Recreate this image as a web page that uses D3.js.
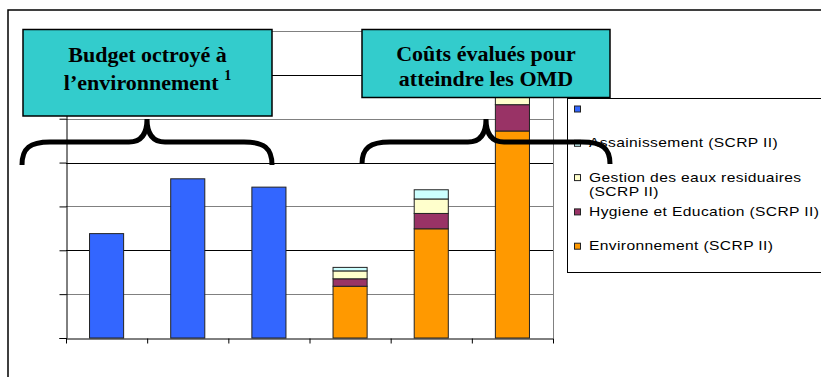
<!DOCTYPE html>
<html>
<head>
<meta charset="utf-8">
<script src="https://cdn.jsdelivr.net/npm/d3@7"></script>
<style>
  body { margin: 0; background: #fff; }
  svg { display: block; }
</style>
</head>
<body>
<div id="chart"></div>
<script>
// categories have no visible labels in the source
const categories = ['b1', 'b2', 'b3', 'c1', 'c2', 'c3'];
const budget = [2.38, 3.63, 3.44, 0, 0, 0];
const environnement = [0, 0, 0, 1.18, 2.49, 4.72];
const hygiene = [0, 0, 0, 0.17, 0.35, 0.60];
const gestion = [0, 0, 0, 0.18, 0.33, 0.45];
const assainissement = [0, 0, 0, 0.08, 0.21, 0.30];
const yTicks = [0, 1, 2, 3, 4, 5, 6, 7];

const keys = ['budget', 'environnement', 'hygiene', 'gestion', 'assainissement'];
const colors = {
  budget: '#3366ff',
  environnement: '#ff9900',
  hygiene: '#993366',
  gestion: '#ffffcc',
  assainissement: '#ccffff'
};
// legend order as drawn (top to bottom), long labels split in lines
const legendKeys = ['budget', 'assainissement', 'gestion', 'hygiene', 'environnement'];
const legendLabels = [
  [''],
  ['Assainissement (SCRP II)'],
  ['Gestion des eaux residuaires', '(SCRP II)'],
  ['Hygiene et Education (SCRP II)'],
  ['Environnement (SCRP II)']
];

let rows = categories.map((c, i) => ({
  cat: c,
  budget: budget[i],
  environnement: environnement[i],
  hygiene: hygiene[i],
  gestion: gestion[i],
  assainissement: assainissement[i]
}));

let svg = d3.select('#chart')
    .append('svg')
    .attr('width', 821)
    .attr('height', 377);

svg.append('rect')
    .attr('width', 821)
    .attr('height', 377)
    .attr('fill', '#fff');

// outer frame
svg.append('path')
    .attr('d', 'M8,377 L8,10 L830,10')
    .attr('fill', 'none')
    .attr('stroke', '#000')
    .attr('stroke-width', 1.5);

let plot = {left: 66, right: 553, top: 31, bottom: 338};

let x = d3.scaleBand()
    .domain(categories)
    .range([plot.left, plot.right])
    .paddingInner(0.58)
    .paddingOuter(0.29);

let xEdges = d3.scaleLinear()
    .domain([0, categories.length])
    .range([plot.left, plot.right]);

let y = d3.scaleLinear()
    .domain([0, 7])
    .range([plot.bottom, plot.top]);

// gridlines
svg.append('g')
    .selectAll('line')
    .data(yTicks.slice(1))
    .enter()
    .append('line')
    .attr('x1', plot.left)
    .attr('x2', plot.right)
    .attr('y1', d => Math.round(y(d)) + 0.5)
    .attr('y2', d => Math.round(y(d)) + 0.5)
    .attr('stroke', d => d % 2 ? '#808080' : '#000')
    .attr('stroke-width', 1);

// plot right border
svg.append('line')
    .attr('x1', plot.right + 0.5)
    .attr('x2', plot.right + 0.5)
    .attr('y1', plot.top)
    .attr('y2', plot.bottom)
    .attr('stroke', '#808080');

let stack = d3.stack().keys(keys)(rows);

let layers = svg.append('g')
    .selectAll('g')
    .data(stack)
    .enter()
    .append('g')
    .attr('fill', d => colors[d.key]);

layers.selectAll('rect')
    .data(d => d.filter(s => s[1] - s[0] > 0))
    .enter()
    .append('rect')
    .attr('x', d => x(d.data.cat))
    .attr('y', d => y(d[1]))
    .attr('width', x.bandwidth())
    .attr('height', d => y(d[0]) - y(d[1]))
    .attr('stroke', '#222')
    .attr('stroke-width', 1);

// axes
let yAxis = d3.axisLeft(y)
    .tickValues(yTicks)
    .tickSize(7)
    .tickFormat('');

svg.append('g')
    .attr('transform', 'translate(' + (plot.left + 0.5) + ',0)')
    .call(yAxis)
    .call(g => g.selectAll('line, path').attr('stroke', '#000'));

let xAxis = d3.axisBottom(xEdges)
    .tickValues(d3.range(categories.length + 1))
    .tickSize(5)
    .tickSizeOuter(0)
    .tickFormat('');

svg.append('g')
    .attr('transform', 'translate(0,' + (plot.bottom + 0.5) + ')')
    .call(xAxis)
    .call(g => g.selectAll('line, path').attr('stroke', '#000'));

// legend
let legend = svg.append('g');

legend.append('rect')
    .attr('x', 567.5)
    .attr('y', 98.5)
    .attr('width', 280)
    .attr('height', 174)
    .attr('fill', '#fff')
    .attr('stroke', '#000');

let items = legend.selectAll('g.item')
    .data(legendKeys)
    .enter()
    .append('g')
    .attr('class', 'item')
    .attr('transform', (d, i) => 'translate(574,' + (108.5 + i * 34.3) + ')');

items.append('rect')
    .attr('x', 0.5)
    .attr('y', -2.5)
    .attr('width', 6)
    .attr('height', 6)
    .attr('fill', d => colors[d])
    .attr('stroke', '#222');

// the source font is stretched horizontally
items.append('g')
    .attr('transform', 'translate(15,0) scale(1.25,1)')
    .append('text')
    .attr('x', 0)
    .attr('y', 4.5)
    .attr('font-family', 'Liberation Sans, Arial, sans-serif')
    .attr('font-size', '12.5px')
    .attr('letter-spacing', '0.3px')
    .attr('fill', '#000')
    .selectAll('tspan')
    .data((d, i) => legendLabels[i])
    .enter()
    .append('tspan')
    .attr('x', 0)
    .attr('dy', (d, i) => i ? 14 : 0)
    .text(d => d);

// braces
function brace(x0, xm, x1, yTip, yMid, yEnd) {
  return 'M' + x0 + ',' + yEnd +
    ' C' + x0 + ',' + (yMid + 6) + ' ' + (x0 + 8) + ',' + yMid + ' ' + (x0 + 28) + ',' + yMid +
    ' L' + (xm - 18) + ',' + yMid +
    ' C' + (xm - 6) + ',' + yMid + ' ' + xm + ',' + (yMid - 8) + ' ' + xm + ',' + yTip +
    ' C' + xm + ',' + (yMid - 8) + ' ' + (xm + 6) + ',' + yMid + ' ' + (xm + 18) + ',' + yMid +
    ' L' + (x1 - 28) + ',' + yMid +
    ' C' + (x1 - 8) + ',' + yMid + ' ' + x1 + ',' + (yMid + 6) + ' ' + x1 + ',' + yEnd;
}

svg.append('path')
    .attr('d', brace(22, 147, 272, 119, 142, 165))
    .attr('fill', 'none')
    .attr('stroke', '#000')
    .attr('stroke-width', 5);

svg.append('path')
    .attr('d', brace(362, 486, 610, 119, 142, 164))
    .attr('fill', 'none')
    .attr('stroke', '#000')
    .attr('stroke-width', 5);

// title boxes
function titleBox(x0, y0, w, h, lines, baselines, sup) {
  let g = svg.append('g');
  g.append('rect')
      .attr('x', x0)
      .attr('y', y0)
      .attr('width', w)
      .attr('height', h)
      .attr('fill', '#33cccc')
      .attr('stroke', '#000')
      .attr('stroke-width', 1.5);
  lines.forEach((t, i) => {
    let txt = g.append('text')
        .attr('x', x0 + w / 2)
        .attr('y', baselines[i])
        .attr('text-anchor', 'middle')
        .attr('font-family', 'Liberation Serif, Times New Roman, serif')
        .attr('font-weight', 'bold')
        .attr('font-size', '22px')
        .attr('fill', '#000')
        .text(t);
    if (sup && i == lines.length - 1) {
      txt.append('tspan')
          .attr('dy', -10)
          .attr('font-size', '14px')
          .text(sup);
    }
  });
}

titleBox(23, 29.5, 249, 86.5, ['Budget octroyé à', 'l’environnement '], [61.5, 90], '1');
titleBox(362, 29.5, 248, 68, ['Coûts évalués pour', 'atteindre les OMD'], [61, 86], null);
</script>
</body>
</html>
